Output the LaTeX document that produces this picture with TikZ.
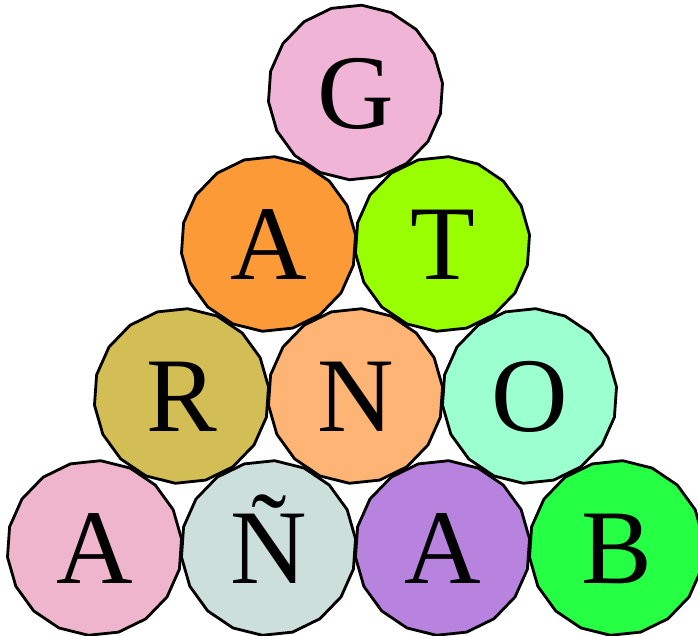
\documentclass[tikz,border=0pt]{standalone}
\usepackage{fontspec}
\setmainfont{Liberation Serif}
\usetikzlibrary{shapes.geometric}
\definecolor{cG}{RGB}{240,180,214}
\definecolor{cA1}{RGB}{253,154,56}
\definecolor{cT}{RGB}{153,255,0}
\definecolor{cR}{RGB}{210,190,85}
\definecolor{cN}{RGB}{254,180,116}
\definecolor{cO}{RGB}{155,255,208}
\definecolor{cA2}{RGB}{239,181,205}
\definecolor{cNn}{RGB}{204,223,218}
\definecolor{cA3}{RGB}{184,131,223}
\definecolor{cB}{RGB}{37,255,68}
\tikzset{
  ball/.style={regular polygon, regular polygon sides=18, shape border rotate=6,
    minimum size=175pt, inner sep=0pt, outer sep=0pt, draw=black, line width=2.8pt,
    fill=#1, font=\fontsize{106}{106}\selectfont, text height=72pt, text depth=0pt}
}
\begin{document}
\begin{tikzpicture}[x=1pt,y=1pt]
\useasboundingbox (0,0) rectangle (698,636);
\begin{scope}
\clip (0,0) rectangle (698,636);
\node[ball=cG]  (g)  at (355.5,543.5) {G};
\node[ball=cA1] (a1) at (268.5,392) {A};
\node[ball=cT]  (t)  at (442.5,392) {T};
\node[ball=cR]  (r)  at (181.5,240) {R};
\node[ball=cN]  (n)  at (355.5,240) {N};
\node[ball=cO]  (o)  at (529.5,240) {O};
\node[ball=cA2] (a2) at (94.5,88) {A};
\node[ball=cNn] (nn) at (268.5,88) {Ñ};
\node[ball=cA3] (a3) at (442.5,88) {A};
\node[ball=cB]  (b)  at (616.5,88) {B};
\end{scope}
\end{tikzpicture}
\end{document}
